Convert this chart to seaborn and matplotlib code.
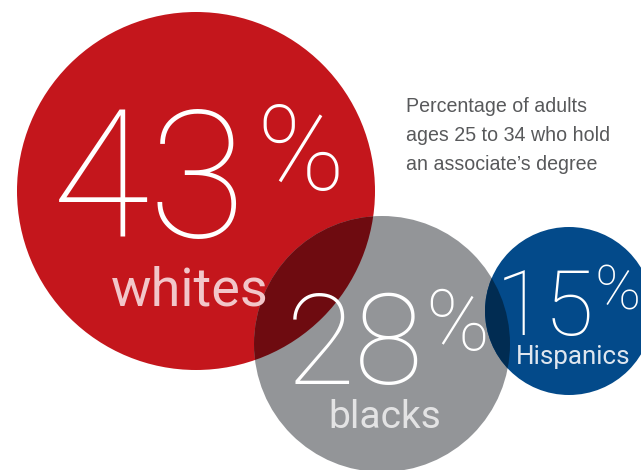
import matplotlib
matplotlib.use("Agg")
import matplotlib.pyplot as plt
from matplotlib.patches import Circle
import seaborn as sns
from matplotlib import font_manager

groups = ["whites", "blacks", "Hispanics"]
values = [43, 28, 15]
title_lines = ["Percentage of adults", "ages 25 to 34 who hold", "an associate\u2019s degree"]

# layout (pixel space)
centers = [(196, 191), (382, 344), (569, 311)]
radii = [179, 128, 84]
colors = ["#c4161c", "#939598", "#034a8a"]
overlaps = {(0, 1): "#6e0b10", (1, 2): "#012c52"}
label_colors = ["#f2c6c9", "#e3e3e4", "#dfe6ef"]

sns.set_theme(style="white")
names = {f.name for f in font_manager.fontManager.ttflist}
fam = "Roboto" if "Roboto" in names else "DejaVu Sans"
plt.rcParams["font.family"] = [fam, "DejaVu Sans"]

fig = plt.figure(figsize=(6.41, 4.70), dpi=100)
ax = fig.add_axes([0, 0, 1, 1])
ax.set_xlim(0, 641)
ax.set_ylim(470, 0)
ax.set_aspect("equal")
ax.axis("off")

circles = []
for (cx, cy), r, c in zip(centers, radii, colors):
    p = Circle((cx, cy), r, facecolor=c, edgecolor="none", zorder=1)
    ax.add_patch(p)
    circles.append(p)
for (i, j), c in overlaps.items():
    (cx, cy), r = centers[i], radii[i]
    p = Circle((cx, cy), r, facecolor=c, edgecolor="none", zorder=2)
    ax.add_patch(p)
    p.set_clip_path(circles[j])

px = 72 / 100
# numbers: (left x, baseline y, size px), percent sign: (left x, baseline y, size px)
num_pos = [(52, 237, 178), (286, 384, 126), (496, 335, 90)]
pct_pos = [(256, 190, 118), (425, 350, 86), (594, 310, 62)]
lab_pos = [(190, 305, 54), (385, 428, 39), (573, 364, 26)]
for k in range(3):
    x, y, s = num_pos[k]
    ax.text(x, y, str(values[k]), fontsize=s * px, color="white", ha="left", va="baseline",
            fontweight="light", zorder=5)
    x, y, s = pct_pos[k]
    ax.text(x, y, "%", fontsize=s * px, color="white", ha="left", va="baseline",
            fontweight="light", zorder=5)
    x, y, s = lab_pos[k]
    ax.text(x, y, groups[k], fontsize=s * px, color=label_colors[k], ha="center", va="baseline",
            zorder=5)

for i, line in enumerate(title_lines):
    ax.text(406, 112 + 29 * i, line, fontsize=19.6 * px, color="#58595b", ha="left",
            va="baseline", family=["Liberation Sans", "DejaVu Sans"], zorder=5)

fig.savefig("out.png", dpi=100)
